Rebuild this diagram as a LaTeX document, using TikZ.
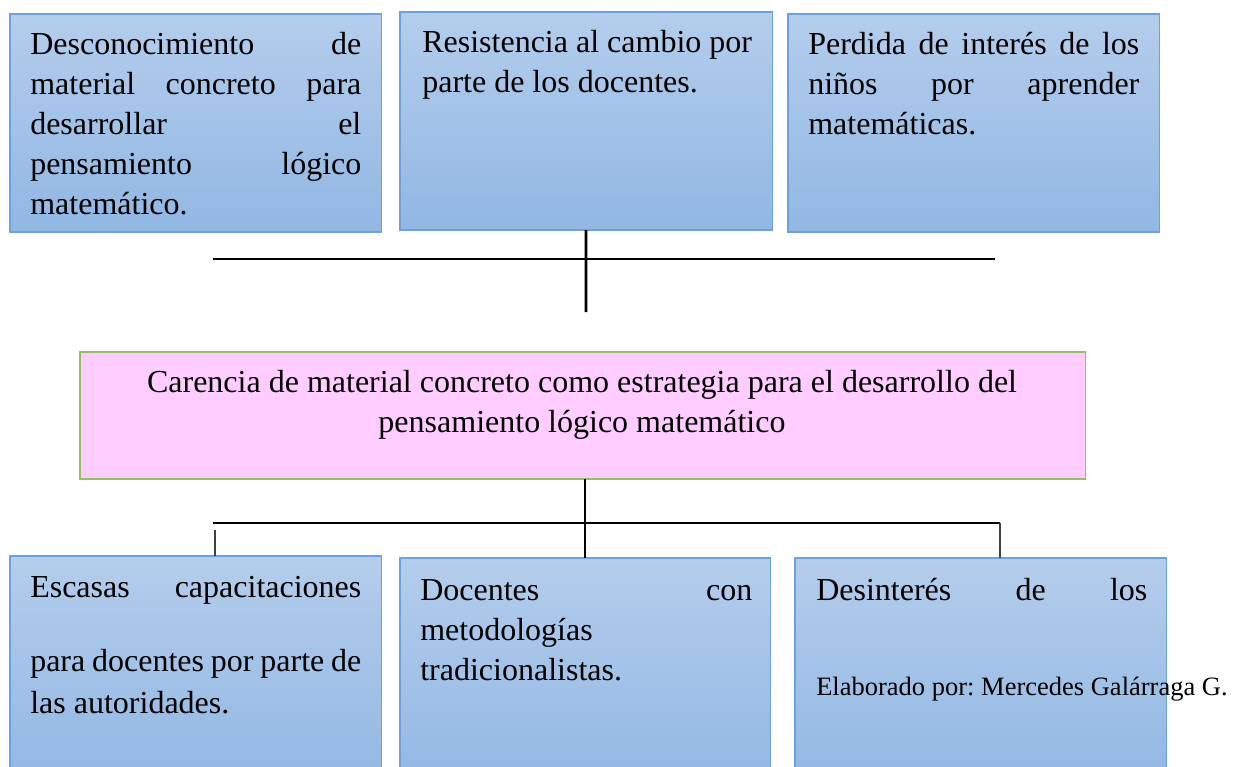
\documentclass[tikz,border=0pt]{standalone}
\usepackage{fontspec}
\setmainfont{Liberation Serif}
\usepackage{tikz}
\usetikzlibrary{positioning}
\setlength{\parindent}{0pt}
\frenchspacing
\definecolor{boxtop}{RGB}{180,205,236}
\definecolor{boxbottom}{RGB}{145,183,227}
\definecolor{boxline}{RGB}{110,160,220}
\definecolor{pinkfill}{RGB}{255,204,255}
\definecolor{pinkline}{RGB}{150,190,100}
\newcommand{\cellfont}{\fontsize{22.76pt}{28.45pt}\selectfont}
\newcommand{\notefont}{\fontsize{18.85pt}{22pt}\selectfont}
\tikzstyle{cause} = [draw=boxline, line width=0.8pt, top color=boxtop, bottom color=boxbottom, anchor=north west, inner sep=0pt, outer sep=0pt]
\tikzstyle{problem} = [draw=pinkline, line width=0.8pt, fill=pinkfill, anchor=north west, inner sep=0pt, outer sep=0pt]
\tikzstyle{celltext} = [anchor=north west, inner sep=0pt, text width=8.275cm, align=justify, font=\cellfont]
\tikzstyle{trunk} = [line width=1.9pt]
\tikzstyle{branch} = [line width=1pt]
\tikzstyle{stub} = [line width=0.9pt, color=black!75]

\begin{document}
\begin{tikzpicture}[x=0.025cm, y=-0.025cm]
\useasboundingbox (0,0) rectangle (1240,767);

% Causes (top row)
\node[cause, minimum width=9.275cm, minimum height=5.45cm] (c1) at (10,14) {};
\node[cause, minimum width=9.3cm, minimum height=5.45cm] (c2) at (400,12) {};
\node[cause, minimum width=9.275cm, minimum height=5.45cm] (c3) at (788,14) {};

\node[celltext] (c1text) at (30,26) {\strut Desconocimiento\hfill de\\ material\hfill concreto\hfill para\\ desarrollar\hfill el\\ pensamiento\hfill lógico\\ matemático.};
\node[celltext] (c2text) at (422,24) {\strut Resistencia al cambio por\\ parte de los docentes.};
\node[celltext] (c3text) at (808,26) {\strut Perdida\hfill de\hfill interés\hfill de\hfill los\\ niños\hfill por\hfill aprender\\ matemáticas.};

% Central problem
\node[problem, minimum width=25.125cm, minimum height=3.175cm] (main) at (80,352) {};
\node[anchor=north, inner sep=0pt, text width=25cm, align=center, font=\cellfont] (maintext) at (582,364) {\spaceskip=0.25em\strut Carencia de material concreto como estrategia para el desarrollo del\\ pensamiento lógico matemático};

% Effects (bottom row)
\node[cause, minimum width=9.275cm, minimum height=5.75cm] (e1) at (10,556) {};
\node[cause, minimum width=9.25cm, minimum height=5.75cm] (e2) at (400,558) {};
\node[cause, minimum width=9.275cm, minimum height=5.75cm] (e3) at (795,558) {};

\node[celltext] (e1text) at (30,569) {\strut Escasas\hfill capacitaciones\\[0.85cm] para\hfill docentes\hfill por\hfill parte\hfill de\\[0.05cm] las autoridades.};
\node[celltext, text width=8.3cm] (e2text) at (420,572) {\strut Docentes\hfill con\\ metodologías\\ tradicionalistas.};
\node[celltext] (e3text) at (816,572) {\strut Desinterés\hfill de\hfill los};

% Connectors
\coordinate (topjoin) at (586,312);
\coordinate (tl) at (213,259);
\coordinate (tr) at (995,259);
\draw[trunk] (c2.south) -- (topjoin);
\draw[branch] (tl) -- (tr);

\coordinate (bl) at (213,523);
\coordinate (br) at (1000,523);
\coordinate (bls) at (215,530);
\draw[trunk] (e2.north |- main.south) -- (e2.north);
\draw[branch] (bl) -- (br);
\draw[stub] (bls) -- (bls |- e1.north);
\draw[stub] (br) -- (br |- e3.north);

% Note
\node[anchor=base west, inner sep=0pt, font=\notefont] (note) at (816,695) {Elaborado por: Mercedes Galárraga G.};
\end{tikzpicture}
\end{document}
